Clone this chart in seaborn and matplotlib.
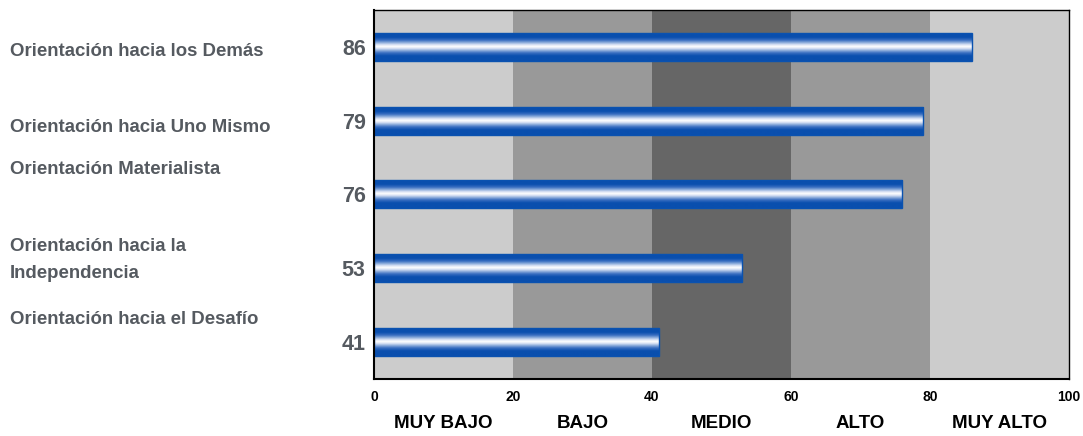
import numpy as np
import pandas as pd
import matplotlib
matplotlib.use("Agg")
import matplotlib.pyplot as plt
from matplotlib.colors import LinearSegmentedColormap
import seaborn as sns

# data
categorias = [
    "Orientación hacia los Demás",
    "Orientación hacia Uno Mismo",
    "Orientación Materialista",
    "Orientación hacia la\nIndependencia",
    "Orientación hacia el Desafío",
]
puntajes = [86, 79, 76, 53, 41]
niveles = ["MUY BAJO", "BAJO", "MEDIO", "ALTO", "MUY ALTO"]
limites = [0, 20, 40, 60, 80, 100]
colores_nivel = ["#cccccc", "#999999", "#666666", "#999999", "#cccccc"]

sns.set_style("white")
plt.rcParams["font.family"] = ["Liberation Sans", "DejaVu Sans"]
plt.rcParams["font.weight"] = "bold"

df = pd.DataFrame({"categoria": categorias, "puntaje": puntajes})

fig = plt.figure(figsize=(10.83, 4.36), dpi=100)
ax = fig.add_axes([0.3453, 0.131, 0.6418, 0.846])

sns.barplot(
    data=df,
    x="puntaje",
    y="categoria",
    orient="h",
    width=0.38,
    color="#0a52b0",
    ax=ax,
    zorder=2,
)

# tube-like gradient on each bar
cmap = LinearSegmentedColormap.from_list(
    "tubo",
    [(0.0, "#0a4fae"), (0.18, "#0a4fae"), (0.28, "#3a6fc1"), (0.36, "#88a9da"),
     (0.43, "#d3def2"), (0.5, "#ffffff"), (0.57, "#d3def2"), (0.64, "#88a9da"),
     (0.72, "#3a6fc1"), (0.82, "#0a4fae"), (1.0, "#0a4fae")],
)
grad = np.linspace(0, 1, 256).reshape(-1, 1)
for p in ax.containers[0]:
    x0, y0 = p.get_x(), p.get_y()
    w, h = p.get_width(), p.get_height()
    im = ax.imshow(
        grad,
        cmap=cmap,
        aspect="auto",
        extent=[x0, x0 + w, y0 + h, y0],
        zorder=3,
        interpolation="bilinear",
    )
    im.set_clip_path(p)
    p.set_edgecolor("#0a52b0")
    p.set_linewidth(1.0)
    p.set_zorder(4)
    p.set_facecolor("none")

# background bands
for i in range(len(niveles)):
    ax.axvspan(limites[i], limites[i + 1], color=colores_nivel[i], zorder=0, lw=0)

ax.set_xlim(0, 100)
ax.set_ylim(4.5, -0.5)
ax.set_xticks([0, 20, 40, 60, 80, 100])
ax.set_xticklabels(["0", "20", "40", "60", "80", "100"], fontsize=10, fontweight="bold", color="black")
ax.set_yticks(range(len(puntajes)))
ax.set_yticklabels([str(v) for v in puntajes], fontsize=15.5, fontweight="bold", color="#555a60")
ax.tick_params(axis="x", length=0, pad=8)
ax.tick_params(axis="y", length=0, pad=6)
ax.set_xlabel("")
ax.set_ylabel("")

for s in ax.spines.values():
    s.set_visible(True)
    s.set_color("black")
    s.set_linewidth(1.0)
    s.set_zorder(5)
ax.spines["left"].set_linewidth(1.5)
ax.spines["bottom"].set_linewidth(1.5)

# level names under the axis
for i, nombre in enumerate(niveles):
    ax.text(
        (limites[i] + limites[i + 1]) / 2,
        -0.122,
        nombre,
        transform=ax.get_xaxis_transform(),
        ha="center",
        va="center",
        fontsize=13.5,
        fontweight="bold",
        color="black",
    )

# category labels on the left
posiciones_y = [52, 127, 170, 260, 319]
for texto, ypix in zip(categorias, posiciones_y):
    fig.text(
        10 / 1083,
        1 - ypix / 436,
        texto,
        ha="left",
        va="center",
        fontsize=13.4,
        fontweight="bold",
        color="#555a60",
        linespacing=1.8,
    )

fig.savefig("out.png", dpi=100)
